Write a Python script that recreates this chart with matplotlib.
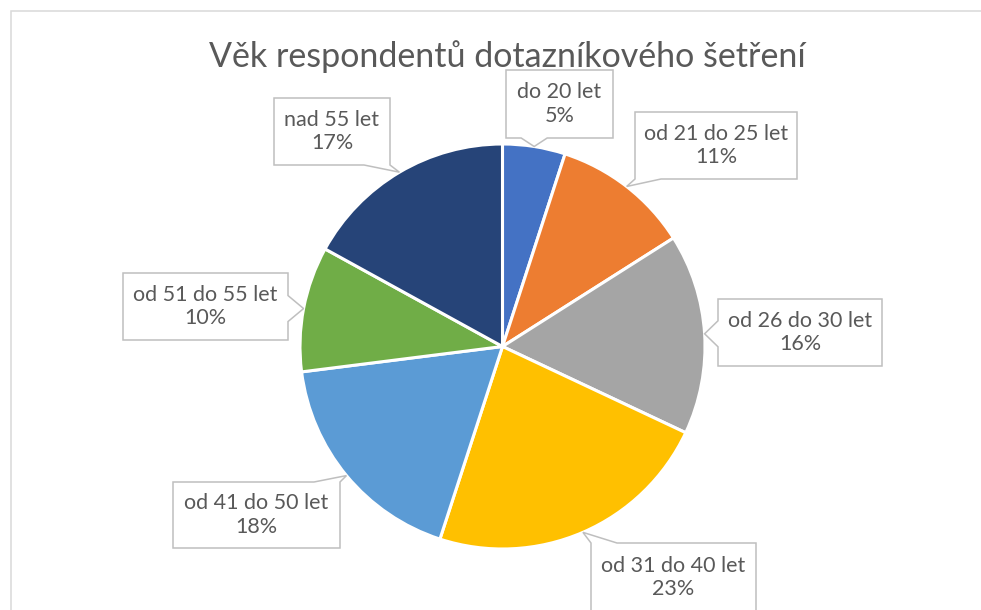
import numpy as np
import matplotlib.pyplot as plt
from matplotlib.patches import Polygon, Rectangle

plt.rcParams['font.family'] = ['Lato', 'DejaVu Sans']

title = 'Věk respondentů dotazníkového šetření'
labels = ['do 20 let', 'od 21 do 25 let', 'od 26 do 30 let', 'od 31 do 40 let',
          'od 41 do 50 let', 'od 51 do 55 let', 'nad 55 let']
shares = [5, 11, 16, 23, 18, 10, 17]
colors = ['#4472C4', '#ED7D31', '#A5A5A5', '#FFC000', '#5B9BD5', '#70AD47', '#264478']

W, H = 981, 610
# label boxes in pixel coords (x0, y0 top, x1, y1 bottom)
boxes = [(506, 70, 613, 138), (635, 112, 797, 179), (718, 299, 882, 366),
         (591, 543, 756, 612), (173, 482, 340, 548), (123, 273, 288, 340),
         (274, 98, 390, 165)]

cx, cy, R = 502.5, 346.5, 202.5

fig = plt.figure(figsize=(W / 100, H / 100), dpi=100)
ax = fig.add_axes([0, 0, 1, 1])

def fy(py):
    return H - py

ax.pie(shares, colors=colors, startangle=90, counterclock=False,
       center=(cx, fy(cy)), radius=R,
       wedgeprops=dict(edgecolor='white', linewidth=2.2))

ax.set_xlim(0, W)
ax.set_ylim(0, H)
ax.set_aspect('equal')
ax.axis('off')

# chart area border (cut off at right/bottom)
ax.add_patch(Rectangle((11, fy(700)), 1100, 689, fill=False, ec='#D9D9D9', lw=1.1))

ax.text(507, fy(57), title, ha='center', va='center', fontsize=24.5, color='#595959')

def callout(box, tip):
    x0, y0, x1, y1 = box
    tx, ty = tip
    bw = 26
    if ty > y1:
        bx = min(max(tx - bw / 2, x0), x1 - bw)
        pts = [(x0, y0), (x1, y0), (x1, y1), (bx + bw, y1), (tx, ty), (bx, y1), (x0, y1)]
    elif ty < y0:
        bx = min(max(tx - bw / 2, x0), x1 - bw)
        pts = [(x0, y0), (bx, y0), (tx, ty), (bx + bw, y0), (x1, y0), (x1, y1), (x0, y1)]
    elif tx < x0:
        by = min(max(ty - bw / 2, y0), y1 - bw)
        pts = [(x0, y0), (x1, y0), (x1, y1), (x0, y1), (x0, by + bw), (tx, ty), (x0, by)]
    else:
        by = min(max(ty - bw / 2, y0), y1 - bw)
        pts = [(x0, y0), (x1, y0), (x1, by), (tx, ty), (x1, by + bw), (x1, y1), (x0, y1)]
    pts = [(px, fy(py)) for px, py in pts]
    ax.add_patch(Polygon(pts, closed=True, fc='white', ec='#BFBFBF', lw=1.1, zorder=5))

total = sum(shares)
acc = 0
for lab, val, box in zip(labels, shares, boxes):
    mid = (acc + val / 2) / total * 2 * np.pi
    acc += val
    tip = (cx + R * np.sin(mid), cy - R * np.cos(mid))
    callout(box, tip)
    xc = (box[0] + box[2]) / 2
    yc = (box[1] + box[3]) / 2
    ax.text(xc, fy(yc), f'{lab}\n{val}%', ha='center', va='center',
            fontsize=15.5, color='#595959', linespacing=1.2, zorder=6)

plt.savefig('out.png', dpi=100)
